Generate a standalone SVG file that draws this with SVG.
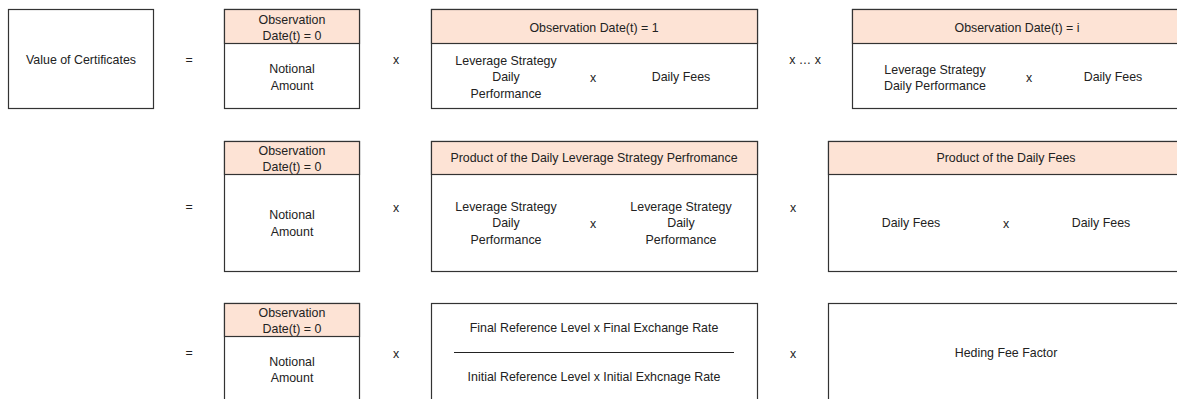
<svg xmlns="http://www.w3.org/2000/svg" width="1177" height="399" viewBox="0 0 1177 399">
<style>
.box{fill:#fff;stroke:#333;stroke-width:1.2}
.hdr{fill:#fde3d5;stroke:#333;stroke-width:1.2}
text{font-family:"Liberation Sans",Arial,sans-serif;font-size:12.4px;fill:#222;text-anchor:middle;dominant-baseline:central}
</style>
<rect width="1177" height="399" fill="#fff"/>
<g id="value"><rect class="box" x="8.5" y="9.5" width="145" height="99"/><text x="81" y="59.5">Value of Certificates</text></g>
<g id="ops">
<text x="189" y="59.5">=</text><text x="396" y="59.5">x</text><text x="805" y="59.5">x … x</text>
<text x="189" y="206.5">=</text><text x="396" y="207.5">x</text><text x="793" y="207.5">x</text>
<text x="189" y="352.5">=</text><text x="396" y="353.5">x</text><text x="793" y="353.5">x</text>
</g>
<g id="notional1"><rect class="box" x="224.5" y="9.5" width="135" height="99"/><rect class="hdr" x="224.5" y="9.5" width="135" height="34"/><text x="292" y="19.5">Observation</text><text x="292" y="35.5">Date(t) = 0</text><text x="292" y="68.5">Notional</text><text x="292" y="85.5">Amount</text></g>
<g id="obs1"><rect class="box" x="431.5" y="9.5" width="326" height="99"/><rect class="hdr" x="431.5" y="9.5" width="326" height="34"/><text x="594" y="27.5">Observation Date(t) = 1</text><text x="506" y="60.5">Leverage Strategy</text><text x="506" y="76.5">Daily</text><text x="506" y="93.5">Performance</text><text x="593" y="77.5">x</text><text x="681" y="76.5">Daily Fees</text></g>
<g id="obsi"><rect class="box" x="852.5" y="9.5" width="330" height="99"/><rect class="hdr" x="852.5" y="9.5" width="330" height="34"/><text x="1017" y="27.5">Observation Date(t) = i</text><text x="935" y="69.5">Leverage Strategy</text><text x="935" y="85.5">Daily Performance</text><text x="1029" y="77.5">x</text><text x="1113" y="76.5">Daily Fees</text></g>
<g id="notional2"><rect class="box" x="224.5" y="141.5" width="135" height="130"/><rect class="hdr" x="224.5" y="141.5" width="135" height="33"/><text x="292" y="150.5">Observation</text><text x="292" y="166.5">Date(t) = 0</text><text x="292" y="214.5">Notional</text><text x="292" y="231.5">Amount</text></g>
<g id="prodlev"><rect class="box" x="431.5" y="141.5" width="326" height="130"/><rect class="hdr" x="431.5" y="141.5" width="326" height="33"/><text x="594" y="157.5">Product of the Daily Leverage Strategy Perfromance</text><text x="506" y="206.5">Leverage Strategy</text><text x="506" y="222.5">Daily</text><text x="506" y="239.5">Performance</text><text x="593" y="223.5">x</text><text x="681" y="206.5">Leverage Strategy</text><text x="681" y="222.5">Daily</text><text x="681" y="239.5">Performance</text></g>
<g id="prodfees"><rect class="box" x="828.5" y="141.5" width="354" height="130"/><rect class="hdr" x="828.5" y="141.5" width="354" height="33"/><text x="1006" y="157.5">Product of the Daily Fees</text><text x="911" y="222.5">Daily Fees</text><text x="1006" y="223.5">x</text><text x="1101" y="222.5">Daily Fees</text></g>
<g id="notional3"><rect class="box" x="224.5" y="303.5" width="135" height="110"/><rect class="hdr" x="224.5" y="303.5" width="135" height="33"/><text x="292" y="312.5">Observation</text><text x="292" y="328.5">Date(t) = 0</text><text x="292" y="361.5">Notional</text><text x="292" y="377.5">Amount</text></g>
<g id="fraction"><rect class="box" x="431.5" y="303.5" width="326" height="110"/><text x="594" y="327.5">Final Reference Level x Final Exchange Rate</text><line x1="454" y1="352.5" x2="734" y2="352.5" stroke="#222" stroke-width="1"/><text x="594" y="376.5">Initial Reference Level x Initial Exhcnage Rate</text></g>
<g id="hedging"><rect class="box" x="828.5" y="303.5" width="354" height="110"/><text x="1006" y="352.5">Heding Fee Factor</text></g>
<g id="connectors"></g>
</svg>
